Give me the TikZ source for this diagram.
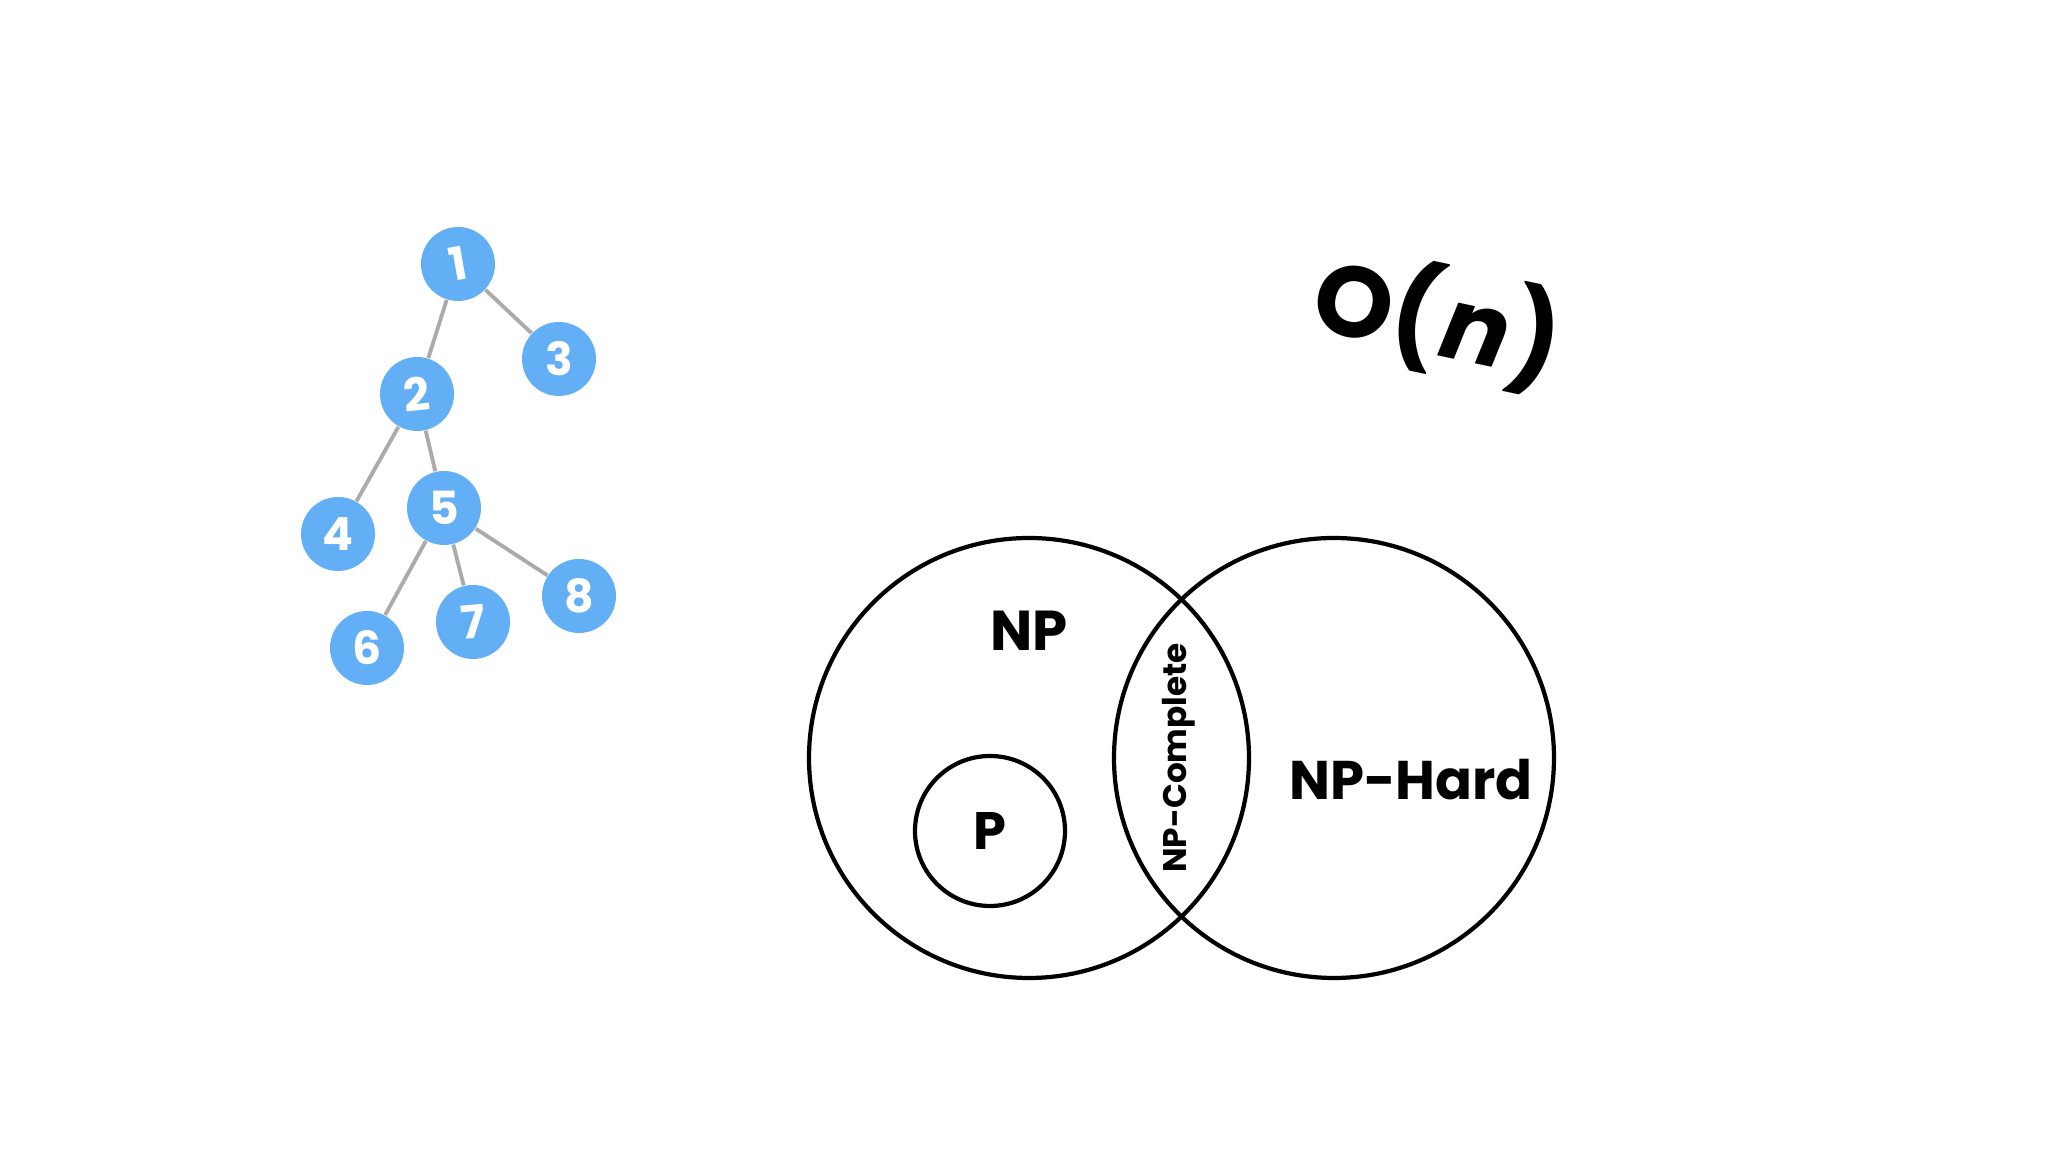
\documentclass[tikz,border=0pt]{standalone}
\usepackage{fontspec}
\setmainfont{Poppins}
\usepackage{tikz}
\usetikzlibrary{positioning}
\definecolor{nodeblue}{HTML}{63AFF5}
\definecolor{edgegray}{HTML}{ABABAB}

\begin{document}
\begin{tikzpicture}[
  vertex/.style={circle, fill=nodeblue, minimum size=0.74cm, inner sep=0pt, text=white, font=\bfseries\fontsize{13}{13}\selectfont},
  treeedge/.style={edgegray, line width=1.1pt},
  set/.style={circle, draw, line width=1.2pt, inner sep=0pt},
  setlabel/.style={font=\bfseries\fontsize{16}{16}\selectfont}]
  \useasboundingbox (0,0) rectangle (20.48,11.52);

  \node[vertex, rotate=10] (v1) at (4.58,8.88) {1};
  \node[vertex] (v3) at (5.59,7.93) {3};
  \node[vertex, rotate=6] (v2) at (4.17,7.58) {2};
  \node[vertex] (v5) at (4.44,6.44) {5};
  \node[vertex] (v4) at (3.38,6.18) {4};
  \node[vertex] (v8) at (5.79,5.56) {8};
  \node[vertex, rotate=5] (v7) at (4.73,5.30) {7};
  \node[vertex] (v6) at (3.67,5.04) {6};

  \draw[treeedge] (v1) -- (v2);
  \draw[treeedge] (v1) -- (v3);
  \draw[treeedge] (v2) -- (v4);
  \draw[treeedge] (v2) -- (v5);
  \draw[treeedge] (v5) -- (v6);
  \draw[treeedge] (v5) -- (v7);
  \draw[treeedge] (v5) -- (v8);

  \node[set, minimum size=4.4cm] (np) at (10.29,3.94) {};
  \node[set, minimum size=4.4cm] (nphard) at (13.34,3.94) {};
  \node[set, minimum size=1.5cm] (p) at (9.90,3.21) {};

  \node[setlabel] (nplabel) at (10.29,5.21) {NP};
  \node[setlabel, font=\bfseries\fontsize{15.5}{15.5}\selectfont] (hardlabel) at (14.11,3.72) {NP-Hard};
  \node[setlabel, font=\bfseries\fontsize{15}{15}\selectfont] (plabel) at (p) {P};
  \node[rotate=90, font=\bfseries\fontsize{9.3}{9.3}\selectfont] (complabel) at (11.79,3.94) {NP-Complete};

  \node[rotate=-12, font=\bfseries\fontsize{28.5}{28.5}\selectfont] (bigo) at (14.38,8.32) {O(\kern1pt\textit{n}\kern1pt)};
\end{tikzpicture}
\end{document}
